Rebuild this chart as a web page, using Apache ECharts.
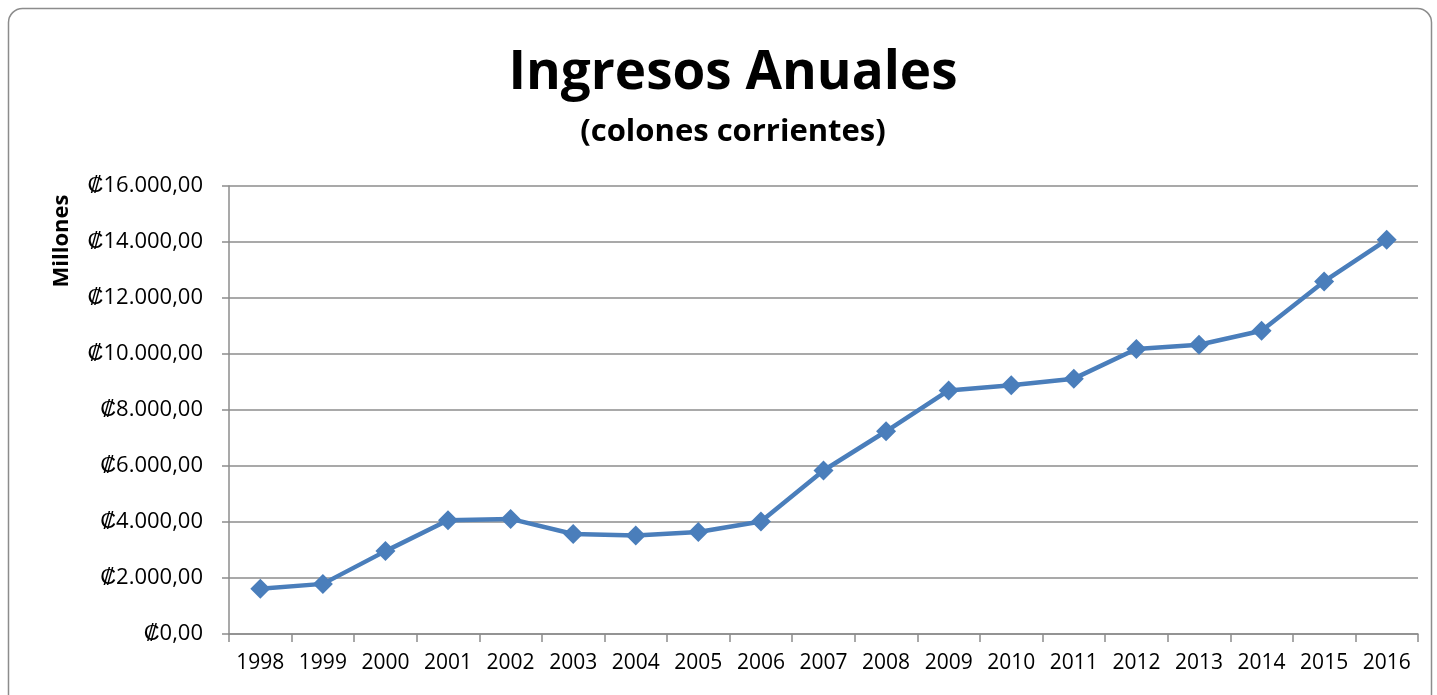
<!DOCTYPE html>
<html>
<head>
<meta charset="utf-8">
<title>Ingresos Anuales</title>
<script src="https://cdn.jsdelivr.net/npm/echarts@6/dist/echarts.min.js"></script>
<style>
  html, body { margin: 0; padding: 0; background: #fff; }
  #chart { width: 1437px; height: 695px; }
</style>
</head>
<body>
<div id="chart"></div>
<script>
// years on the x axis
const years = ["1998", "1999", "2000", "2001", "2002", "2003", "2004", "2005", "2006", "2007",
  "2008", "2009", "2010", "2011", "2012", "2013", "2014", "2015", "2016"];
// ingresos, millones de colones
const ingresos = [1620, 1790, 2960, 4060, 4110, 3570, 3520, 3640, 4020, 5840,
  7240, 8700, 8880, 9120, 10180, 10330, 10830, 12590, 14080];

const font = "'Open Sans', sans-serif";

function colones(v) {
  const s = v.toFixed(2).split(".");
  return "₡" + s[0].replace(/\B(?=(\d{3})+(?!\d))/g, ".") + "," + s[1];
}

const chart = echarts.init(document.getElementById("chart"));
chart.setOption({
  animation: false,
  title: [
    {
      text: "Ingresos Anuales",
      left: 728,
      top: 42,
      textAlign: "center",
      textStyle: { fontFamily: font, fontWeight: "bold", fontSize: 53, color: "#000" }
    },
    {
      text: "(colones corrientes)",
      left: 728,
      top: 112,
      textAlign: "center",
      textStyle: { fontFamily: font, fontWeight: "bold", fontSize: 31, color: "#000" }
    }
  ],
  graphic: [
    {
      type: "rect",
      shape: { x: 8.5, y: 8.5, width: 1423, height: 720, r: 14 },
      style: { fill: "none", stroke: "#8c8c8c", lineWidth: 1.5 },
      silent: true
    },
    {
      type: "text",
      x: 62,
      y: 241,
      rotation: Math.PI / 2,
      style: {
        text: "Millones",
        fontFamily: font,
        fontWeight: "bold",
        fontSize: 22,
        fill: "#000",
        align: "center",
        verticalAlign: "middle"
      }
    }
  ],
  grid: { left: 229, right: 19, top: 186, bottom: 61 },
  xAxis: {
    type: "category",
    data: years,
    boundaryGap: true,
    axisLine: { lineStyle: { color: "#8c8c8c", width: 1.5 } },
    axisTick: { show: true, length: 8, lineStyle: { color: "#8c8c8c", width: 1.5 } },
    axisLabel: { color: "#000", fontFamily: font, fontSize: 21, margin: 19, interval: 0, hideOverlap: false }
  },
  yAxis: {
    type: "value",
    min: 0,
    max: 16000,
    interval: 2000,
    axisLine: { show: true, lineStyle: { color: "#8c8c8c", width: 1.5 } },
    axisTick: { show: true, length: 7, lineStyle: { color: "#8c8c8c", width: 1.5 } },
    splitLine: { lineStyle: { color: "#8c8c8c", width: 1.5 } },
    axisLabel: { color: "#000", fontFamily: font, fontSize: 22, margin: 26, formatter: colones }
  },
  series: [
    {
      type: "line",
      data: ingresos,
      symbol: "diamond",
      symbolSize: 20,
      lineStyle: { color: "#4a7ebb", width: 4.5 },
      itemStyle: { color: "#4a7ebb" }
    }
  ]
});
</script>
</body>
</html>
